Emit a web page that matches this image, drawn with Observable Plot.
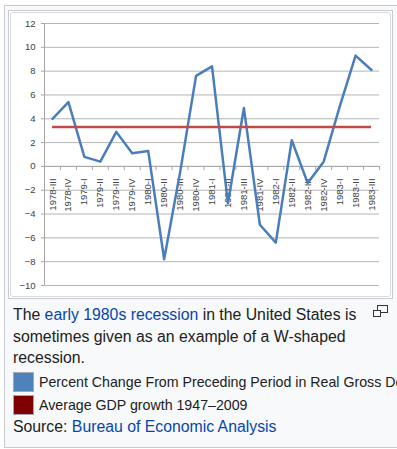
<!DOCTYPE html>
<html>
<head>
<meta charset="utf-8">
<script src="https://cdn.jsdelivr.net/npm/d3@7"></script>
<script src="https://cdn.jsdelivr.net/npm/@observablehq/plot@0.6"></script>
<style>
  html, body { margin: 0; padding: 0; background: #fff; width: 397px; height: 449px; overflow: hidden; }
  body { position: relative; font-family: "Liberation Sans", Arial, sans-serif; color: #202122; }
  .thumb { position: absolute; left: 4px; top: 5px; width: 460px; height: 443px; box-sizing: border-box;
           border: 1px solid #c8ccd1; background: #f8f9fa; }
  .imgframe { position: absolute; left: 8px; top: 10px; width: 385px; height: 289px; box-sizing: border-box;
              border: 1px solid #c8ccd1; background: #fff; }
  .chartborder { position: absolute; left: 10px; top: 12px; width: 381px; height: 285px; box-sizing: border-box;
                 border: 1px solid #d9d9d9; border-radius: 3px; }
  #chart { position: absolute; left: 11px; top: 12px; }
  #chart svg { display: block; font-family: "Liberation Sans", Arial, sans-serif; }
  .caption { position: absolute; left: 13px; top: 304px; width: 358px; font-size: 15.8px; line-height: 21.5px; }
  a { color: #0645ad; text-decoration: none; }
  .legend { position: absolute; left: 13px; top: 372px; font-size: 14.2px; line-height: 20px; white-space: nowrap; }
  .row { display: flex; align-items: flex-start; height: 23px; }
  .sw { width: 21px; height: 20px; box-sizing: border-box; border: 1px solid #a2a9b1; margin-right: 5px; flex: none; }
  .source { position: absolute; left: 13px; top: 416px; font-size: 15.8px; line-height: 21.5px; white-space: nowrap; }
  .mag { position: absolute; left: 373px; top: 305px; width: 14px; height: 12px; }
  .mag .a { position: absolute; left: 4px; top: 0; width: 9px; height: 6px; border: 1px solid #333; background: #f8f9fa; }
  .mag .b { position: absolute; left: 0; top: 5px; width: 6px; height: 5px; border: 1px solid #333; background: #f8f9fa; }
</style>
</head>
<body>
<div class="thumb"></div>
<div class="imgframe"></div>
<div class="chartborder"></div>
<div id="chart"></div>
<div class="mag"><div class="a"></div><div class="b"></div></div>
<div class="caption">The <a>early 1980s recession</a> in the United States is sometimes given as an example of a W-shaped recession.</div>
<div class="legend">
  <div class="row"><div class="sw" id="sw0"></div><span id="lg0"></span></div>
  <div class="row"><div class="sw" id="sw1"></div><span id="lg1"></span></div>
</div>
<div class="source">Source: <a>Bureau of Economic Analysis</a></div>
<script>
const categories = ["1978-III","1978-IV","1979-I","1979-II","1979-III","1979-IV","1980-I","1980-II","1980-III","1980-IV","1981-I","1981-II","1981-III","1981-IV","1982-I","1982-II","1982-III","1982-IV","1983-I","1983-II","1983-III"];
const gdpChange = [4.0, 5.4, 0.8, 0.4, 2.9, 1.1, 1.3, -7.8, -0.5, 7.6, 8.4, -3.1, 4.9, -4.9, -6.4, 2.2, -1.4, 0.4, 5.0, 9.3, 8.1];
const averageGrowth = 3.3;
const yTicks = [12, 10, 8, 6, 4, 2, 0, -2, -4, -6, -8, -10];
const legendLabels = ["Percent Change From Preceding Period in Real Gross Domestic Product", "Average GDP growth 1947\u20132009"];
const legendColors = ["#4f81bd", "#7f0000"];

const rows = categories.map((c, i) => ({i, category: c, value: gdpChange[i]}));
const boundaries = d3.range(categories.length + 1).map(i => i - 0.5);

const plot = Plot.plot({
  width: 380,
  height: 284,
  marginLeft: 33,
  marginRight: 12,
  marginTop: 11,
  marginBottom: 11,
  style: {background: "transparent", fontSize: "9.5px"},
  x: {type: "linear", domain: [-0.5, categories.length - 0.5], axis: null},
  y: {domain: [-10, 12], axis: null},
  marks: [
    Plot.gridY(yTicks, {stroke: "#b5b5b5", strokeOpacity: 1, strokeWidth: 1}),
    Plot.ruleX([-0.5], {stroke: "#a6a6a6", strokeWidth: 1}),
    Plot.axisY(yTicks, {label: null, tickSize: 3, tickPadding: 6, stroke: "#a6a6a6", fill: "#404040", fontSize: 9.5}),
    Plot.ruleY([0], {stroke: "#a6a6a6", strokeWidth: 1}),
    Plot.ruleX(boundaries, {y1: 0, y2: -0.35, stroke: "#a6a6a6", strokeWidth: 1}),
    Plot.text(rows, {x: "i", y: 0, text: "category", rotate: -90, textAnchor: "end", dy: 12, fontSize: 9.5, fill: "#404040"}),
    Plot.line(rows, {x: "i", y: "value", stroke: "#4a7ebb", strokeWidth: 2.5}),
    Plot.ruleY([averageGrowth], {x1: 0, x2: categories.length - 1, stroke: "#be4b48", strokeWidth: 2.5})
  ]
});
document.getElementById("chart").appendChild(plot);

legendLabels.forEach((t, k) => {
  document.getElementById("lg" + k).textContent = t;
  document.getElementById("sw" + k).style.background = legendColors[k];
});
</script>
</body>
</html>
